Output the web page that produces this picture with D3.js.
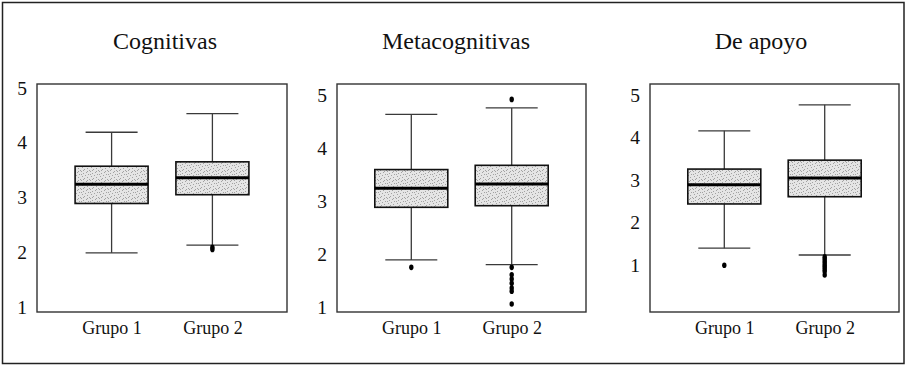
<!DOCTYPE html>
<html><head><meta charset="utf-8">
<script src="https://cdn.jsdelivr.net/npm/d3@7"></script>
<style>body{margin:0;background:#fff}</style>
</head><body><svg id="c" width="905" height="367"></svg>
<script>
// ---------- data ----------
const panels = ["Cognitivas", "Metacognitivas", "De apoyo"];
const groups = ["Grupo 1", "Grupo 2"];
const yTicks = [1, 2, 3, 4, 5];
// five-number summaries: [lower whisker, Q1, median, Q3, upper whisker]
const cognitivasG1 = [1.99, 2.89, 3.24, 3.57, 4.19];
const cognitivasG2 = [2.13, 3.05, 3.36, 3.65, 4.53];
const metacognitivasG1 = [1.90, 2.89, 3.25, 3.60, 4.64];
const metacognitivasG2 = [1.81, 2.92, 3.33, 3.68, 4.76];
const apoyoG1 = [1.40, 2.44, 2.89, 3.26, 4.16];
const apoyoG2 = [1.24, 2.61, 3.05, 3.47, 4.77];
// outliers
const cognitivasOut1 = [];
const cognitivasOut2 = [2.09, 2.05];
const metacognitivasOut1 = [1.76];
const metacognitivasOut2 = [4.92, 1.76, 1.62, 1.54, 1.46, 1.37, 1.31, 1.07];
const apoyoOut1 = [1.00];
const apoyoOut2 = [1.20, 1.15, 1.10, 1.05, 1.00, 0.95, 0.90, 0.85, 0.77];
// value range shown on each panel's axis
const yDomains = [[0.91, 5.07], [0.92, 5.21], [-0.10, 5.26]];

const stats = [[cognitivasG1, cognitivasG2], [metacognitivasG1, metacognitivasG2], [apoyoG1, apoyoG2]];
const outs = [[cognitivasOut1, cognitivasOut2], [metacognitivasOut1, metacognitivasOut2], [apoyoOut1, apoyoOut2]];

// ---------- layout ----------
const layout = [
  {left: 37, right: 287, titleX: 165},
  {left: 337, right: 586, titleX: 456},
  {left: 650, right: 899, titleX: 761}
];
const plotTop = 84, plotBottom = 312;
const boxW = 73, capW = 52;

const svg = d3.select("#c");
const defs = svg.append("defs");
const pat = defs.append("pattern").attr("id", "stip").attr("patternUnits", "userSpaceOnUse")
  .attr("width", 9).attr("height", 9);
pat.append("rect").attr("width", 9).attr("height", 9).attr("fill", "#e5e5e5");
[[0,0],[5,1],[2,2],[7,3],[4,4],[1,5],[6,6],[3,7],[8,8],[0,3],[6,0],[2,8]].forEach(([a,b]) =>
  pat.append("rect").attr("x", a).attr("y", b).attr("width", 1).attr("height", 1).attr("fill", "#a2a2a2"));

// outer frame
svg.append("rect").attr("x", 2.5).attr("y", 2.5).attr("width", 901.5).attr("height", 361)
  .attr("fill", "none").attr("stroke", "#222").attr("stroke-width", 1.5);

const serif = "Liberation Serif, Times New Roman, serif";

panels.forEach((name, i) => {
  const L = layout[i];
  const y = d3.scaleLinear().domain(yDomains[i]).range([plotBottom, plotTop]);
  const x = d3.scalePoint().domain(groups).range([L.left, L.right]).padding(0.74);
  const g = svg.append("g");

  g.append("text").attr("x", L.titleX).attr("y", 49).attr("text-anchor", "middle")
    .attr("font-family", serif).attr("font-size", 24).attr("fill", "#111").text(name);

  g.append("rect").attr("x", L.left).attr("y", plotTop).attr("width", L.right - L.left)
    .attr("height", plotBottom - plotTop).attr("fill", "none").attr("stroke", "#333").attr("stroke-width", 1.4);

  const ya = g.append("g").attr("transform", `translate(${L.left},0)`)
    .call(d3.axisLeft(y).tickValues(yTicks).tickSize(0).tickPadding(10).tickFormat(d3.format("d")));
  ya.select(".domain").remove();
  ya.selectAll("text").attr("font-family", serif).attr("font-size", 19.5).attr("fill", "#111");

  const xa = g.append("g").attr("transform", `translate(0,${plotBottom})`)
    .call(d3.axisBottom(x).tickSize(0).tickPadding(9));
  xa.select(".domain").remove();
  xa.selectAll("text").attr("font-family", serif).attr("font-size", 18).attr("fill", "#111");

  groups.forEach((grp, j) => {
    const s = stats[i][j];
    const cx = x(grp);
    g.append("line").attr("x1", cx).attr("x2", cx).attr("y1", y(s[0])).attr("y2", y(s[4]))
      .attr("stroke", "#3a3a3a").attr("stroke-width", 1.3);
    [s[0], s[4]].forEach(v => g.append("line").attr("x1", cx - capW / 2).attr("x2", cx + capW / 2)
      .attr("y1", y(v)).attr("y2", y(v)).attr("stroke", "#3a3a3a").attr("stroke-width", 1.3));
    g.append("rect").attr("x", cx - boxW / 2).attr("y", y(s[3])).attr("width", boxW)
      .attr("height", y(s[1]) - y(s[3])).attr("fill", "url(#stip)").attr("stroke", "#111").attr("stroke-width", 1.6);
    g.append("line").attr("x1", cx - boxW / 2).attr("x2", cx + boxW / 2)
      .attr("y1", y(s[2])).attr("y2", y(s[2])).attr("stroke", "#000").attr("stroke-width", 3);
    g.selectAll(null).data(outs[i][j]).enter().append("ellipse")
      .attr("cx", cx).attr("cy", d => y(d)).attr("rx", 2.2).attr("ry", 2.8).attr("fill", "#000");
  });
});
</script></body></html>
